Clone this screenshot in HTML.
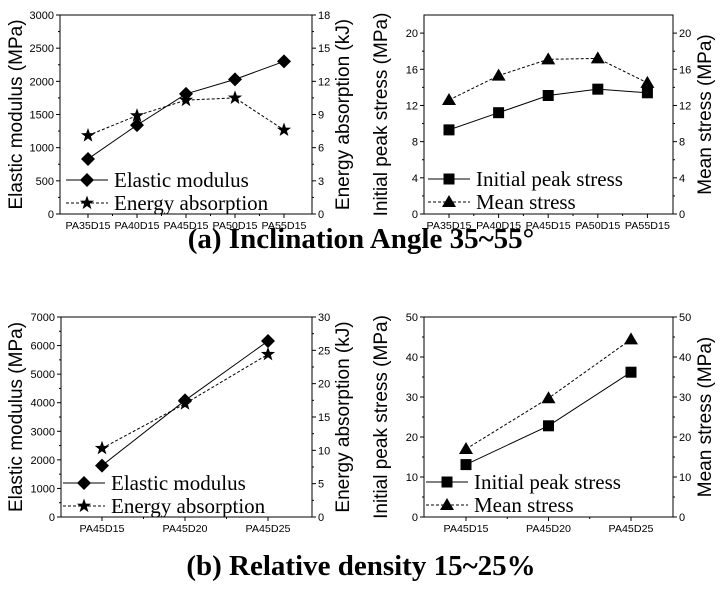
<!DOCTYPE html>
<html><head><meta charset="utf-8"><style>
body{margin:0;background:#fff;}
svg{display:block;}
text{font-family:"Liberation Sans",sans-serif;}
.serif{font-family:"Liberation Serif",serif;}
</style></head><body>
<svg id="fig" width="722" height="589" viewBox="0 0 722 589" xmlns="http://www.w3.org/2000/svg">
<text class="serif" x="361" y="248" text-anchor="middle" font-size="29" font-weight="bold">(a) Inclination Angle 35~55°</text>
<text class="serif" x="361" y="575" text-anchor="middle" font-size="29" font-weight="bold">(b) Relative density 15~25%</text>
</svg>
<script>
const catsA = ['PA35D15','PA40D15','PA45D15','PA50D15','PA55D15'];
const emA = [830,1340,1810,2030,2300];
const eaA = [7.1,8.9,10.3,10.5,7.6];
const ipsA = [9.3,11.2,13.1,13.8,13.4];
const msA = [12.6,15.3,17.1,17.2,14.5];
const catsB = ['PA45D15','PA45D20','PA45D25'];
const emB = [1800,4080,6160];
const eaB = [10.3,17.0,24.4];
const ipsB = [13.1,22.8,36.2];
const msB = [17.0,29.7,44.4];
const ticksEmA=[0,500,1000,1500,2000,2500,3000], ticksEaA=[0,3,6,9,12,15,18];
const ticksStressA=[0,4,8,12,16,20];
const ticksEmB=[0,1000,2000,3000,4000,5000,6000,7000], ticksEaB=[0,5,10,15,20,25,30];
const ticksStressB=[0,10,20,30,40,50];

const NS='http://www.w3.org/2000/svg';
const svg=document.getElementById('fig');
function mk(tag,attrs,parent,txt){const e=document.createElementNS(NS,tag);for(const k in attrs)e.setAttribute(k,attrs[k]);if(txt!==undefined)e.textContent=txt;(parent||svg).appendChild(e);return e;}

function marker(g,type,x,y){
  let m;
  if(type==='diamond') m=mk('polygon',{points:`${x},${y-7} ${x+7},${y} ${x},${y+7} ${x-7},${y}`,fill:'#000'},g);
  else if(type==='square') m=mk('rect',{x:x-5.5,y:y-5.5,width:11,height:11,fill:'#000'},g);
  else if(type==='triangle') m=mk('polygon',{points:`${x},${y-7} ${x+7},${y+5} ${x-7},${y+5}`,fill:'#000'},g);
  else {let p=[];for(let i=0;i<10;i++){const r=i%2?3:7.5;const a=-Math.PI/2+i*Math.PI/5;p.push((x+r*Math.cos(a)).toFixed(1)+','+(y+r*Math.sin(a)).toFixed(1));}
    m=mk('polygon',{points:p.join(' '),fill:'#000'},g);}
  return m;
}

function panel(o){
  const g=mk('g',{});
  
  
  const {x0,x1,y0,y1}=o;
  const sx=i=>x0+o.off+i*o.step;
  const syL=v=>y1-(v-0)/(o.lmax)*(y1-y0);
  const syR=v=>y1-(v-0)/(o.rmax)*(y1-y0);
  const frame=mk('rect',{x:x0,y:y0,width:x1-x0,height:y1-y0,fill:'none',stroke:'#000','stroke-width':1},g);
  
  
  o.lt.forEach((v,i)=>{const y=syL(v);mk('line',{x1:x0-4,x2:x0,y1:y,y2:y,stroke:'#000'},g);
    const t=mk('text',{x:x0-6,y:y+4,'text-anchor':'end','font-size':11},g,v);
    
    if(i<o.lt.length-1){const ym=syL((v+o.lt[i+1])/2);mk('line',{x1:x0-2,x2:x0,y1:ym,y2:ym,stroke:'#000'},g);}});
  o.rt.forEach((v,i)=>{const y=syR(v);mk('line',{x1:x1,x2:x1+4,y1:y,y2:y,stroke:'#000'},g);
    const t=mk('text',{x:x1+6,y:y+4,'text-anchor':'start','font-size':11},g,v);
    
    if(i<o.rt.length-1){const ym=syR((v+o.rt[i+1])/2);mk('line',{x1:x1,x2:x1+2,y1:ym,y2:ym,stroke:'#000'},g);}});
  o.cats.forEach((c,i)=>{const x=sx(i);mk('line',{x1:x,x2:x,y1:y1,y2:y1+4,stroke:'#000'},g);
    const t=mk('text',{x:x,y:y1+15,'text-anchor':'middle','font-size':10.5,textLength:45,lengthAdjust:'spacingAndGlyphs'},g,c);
    
    if(i<o.cats.length-1){mk('line',{x1:x+o.step/2,x2:x+o.step/2,y1:y1,y2:y1+2,stroke:'#000'},g);}});
  const cy=(y0+y1)/2;
  const lt=mk('text',{x:0,y:0,transform:`translate(${o.ltx},${cy}) rotate(-90)`,'text-anchor':'middle','font-size':19},g,o.ltitle);
  
  const rt=mk('text',{x:0,y:0,transform:`translate(${o.rtx},${cy}) rotate(-90)`,'text-anchor':'middle','font-size':19},g,o.rtitle);
  
  const s1=o.s1.map((v,i)=>sx(i)+','+syL(v)).join(' ');
  const l1=mk('polyline',{points:s1,fill:'none',stroke:'#000','stroke-width':1},g);
  
  const s2=o.s2.map((v,i)=>sx(i)+','+syR(v)).join(' ');
  const l2=mk('polyline',{points:s2,fill:'none',stroke:'#000','stroke-width':1,'stroke-dasharray':'3,2'},g);
  
  o.s1.forEach((v,i)=>{const m=marker(g,o.m1,sx(i),syL(v));});
  o.s2.forEach((v,i)=>{const m=marker(g,o.m2,sx(i),syR(v));});
  const L=o.leg;
  const lg=mk('g',{},g);
  
  mk('line',{x1:L.x,x2:L.x+42,y1:L.y,y2:L.y,stroke:'#000'},lg);
  marker(lg,o.m1,L.x+21,L.y);
  const e1=mk('text',{x:L.x+48,y:L.y+7,'font-size':21,class:'serif'},lg,o.n1);
  
  mk('line',{x1:L.x,x2:L.x+42,y1:L.y+23,y2:L.y+23,stroke:'#000','stroke-dasharray':'3,2'},lg);
  marker(lg,o.m2,L.x+21,L.y+23);
  const e2=mk('text',{x:L.x+48,y:L.y+30,'font-size':21,class:'serif'},lg,o.n2);
  
}
panel({name:'chart-elastic-energy-a',x0:60,x1:312,y0:15,y1:214,off:28,step:49,cats:catsA,lmax:3000,rmax:18,lt:ticksEmA,rt:ticksEaA,
  s1:emA,s2:eaA,m1:'diamond',m2:'star',ltitle:'Elastic modulus (MPa)',rtitle:'Energy absorption (kJ)',ltx:22,rtx:349,
  leg:{x:66,y:180},n1:'Elastic modulus',n2:'Energy absorption'});
panel({name:'chart-stress-a',x0:424,x1:673,y0:15,y1:214,off:25,step:49.6,cats:catsA,lmax:22,rmax:22,lt:ticksStressA,rt:ticksStressA,
  s1:ipsA,s2:msA,m1:'square',m2:'triangle',ltitle:'Initial peak stress (MPa)',rtitle:'Mean stress (MPa)',ltx:387,rtx:711,
  leg:{x:428,y:179},n1:'Initial peak stress',n2:'Mean stress'});
panel({name:'chart-elastic-energy-b',x0:61,x1:312,y0:317,y1:517,off:41,step:83,cats:catsB,lmax:7000,rmax:30,lt:ticksEmB,rt:ticksEaB,
  s1:emB,s2:eaB,m1:'diamond',m2:'star',ltitle:'Elastic modulus (MPa)',rtitle:'Energy absorption (kJ)',ltx:22,rtx:349,
  leg:{x:63,y:483},n1:'Elastic modulus',n2:'Energy absorption'});
panel({name:'chart-stress-b',x0:424,x1:673,y0:317,y1:517,off:42,step:82.5,cats:catsB,lmax:50,rmax:50,lt:ticksStressB,rt:ticksStressB,
  s1:ipsB,s2:msB,m1:'square',m2:'triangle',ltitle:'Initial peak stress (MPa)',rtitle:'Mean stress (MPa)',ltx:387,rtx:711,
  leg:{x:426,y:482},n1:'Initial peak stress',n2:'Mean stress'});
</script>
</body></html>
